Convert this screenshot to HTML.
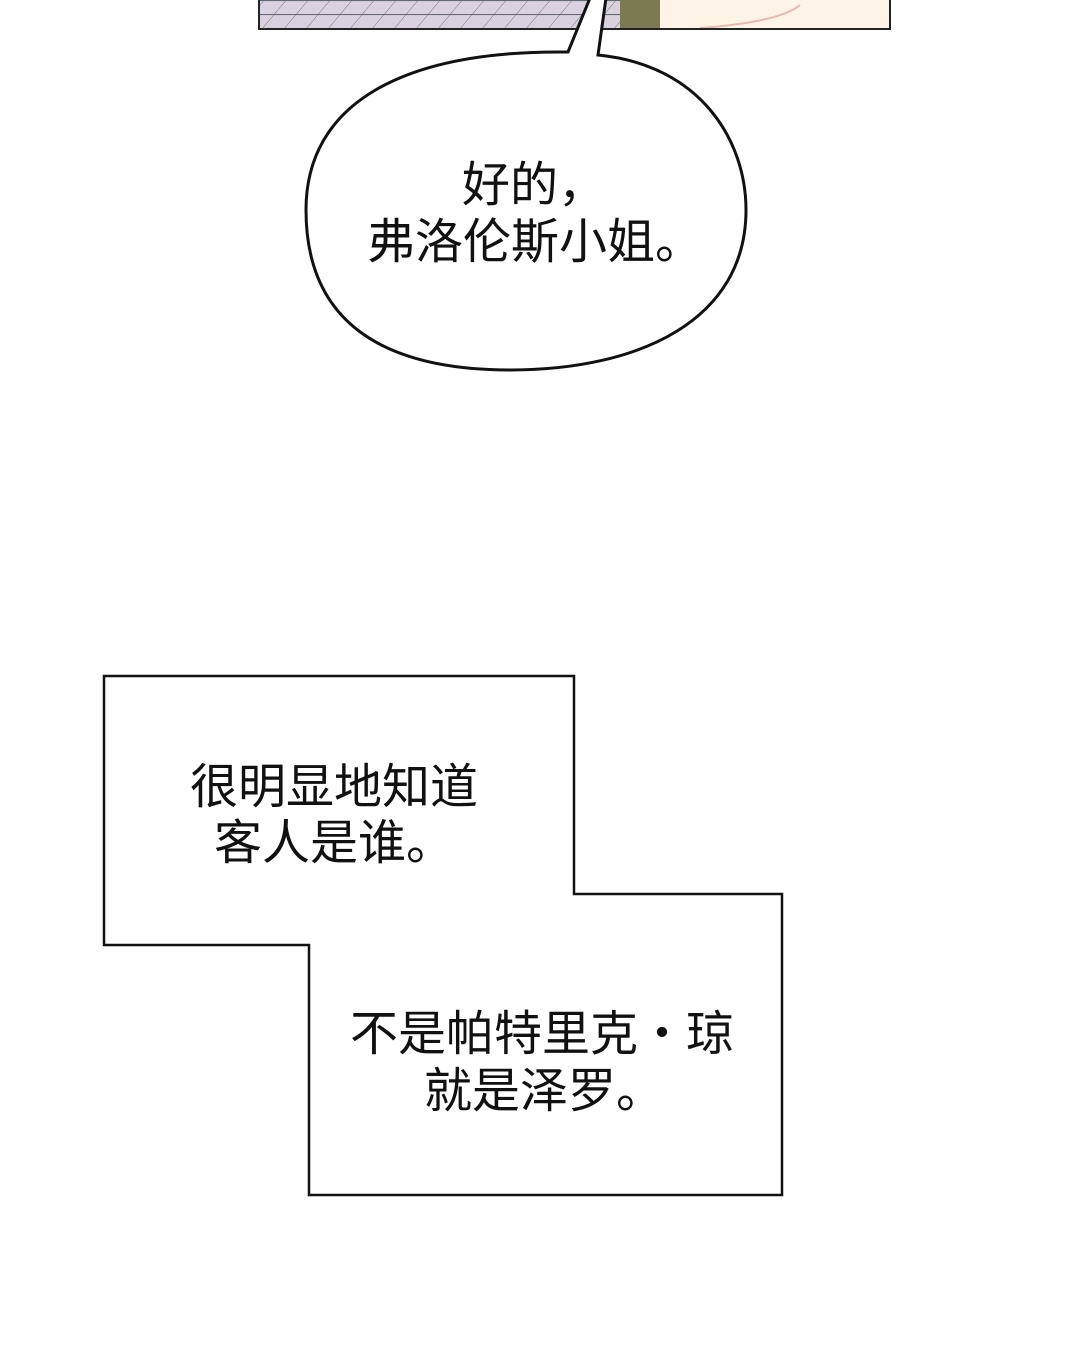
<!DOCTYPE html>
<html><head><meta charset="utf-8"><style>
html,body{margin:0;padding:0;background:#fff;}
body{width:1080px;height:1352px;position:relative;overflow:hidden;font-family:"Liberation Sans","Noto Sans CJK SC",sans-serif;}
.t{position:absolute;font-size:48px;line-height:57px;color:#111;white-space:nowrap;}
</style></head><body>
<svg width="1080" height="1352" style="position:absolute;left:0;top:0">
<defs>
<pattern id="p" width="22" height="14" patternUnits="userSpaceOnUse" patternTransform="skewX(-40)">
<rect width="22" height="14" fill="#d9d2de"/>
<line x1="0" y1="0" x2="22" y2="0" stroke="#5a6468" stroke-width="2"/>
<line x1="0" y1="0" x2="0" y2="14" stroke="#5a6468" stroke-width="1"/>
</pattern>
</defs>
<rect x="259" y="-2" width="631" height="31" fill="url(#p)" />
<rect x="620" y="-2" width="70" height="31" fill="#7c7a52"/>
<rect x="660" y="-2" width="230" height="31" fill="#fdf3e6"/>
<path d="M800 5 Q780 22 700 28" stroke="#e9b9b0" stroke-width="2" fill="none"/>
<rect x="259" y="-2" width="631" height="31" fill="none" stroke="#222" stroke-width="2"/>
<path d="M568 52 L590 -2 L606 -2 L598 55 C700 65 746 140 746 210 C746 320 640 370 510 370 C380 370 306 320 306 210 C306 105 400 50 568 52 Z" fill="#fff" stroke="#111" stroke-width="3"/>
<path d="M104 676 L574 676 L574 894 L782 894 L782 1195 L309 1195 L309 945 L104 945 Z" fill="#fff" stroke="#111" stroke-width="2.5"/>
</svg>
<div class="t" style="left:462px;top:157px">好的，</div>
<div class="t" style="left:367px;top:214px">弗洛伦斯小姐。</div>
<div class="t" style="left:190px;top:759px">很明显地知道</div>
<div class="t" style="left:214px;top:815px">客人是谁。</div>
<div class="t" style="left:350px;top:1006px">不是帕特里克・琼</div>
<div class="t" style="left:424px;top:1063px">就是泽罗。</div>
</body></html>
